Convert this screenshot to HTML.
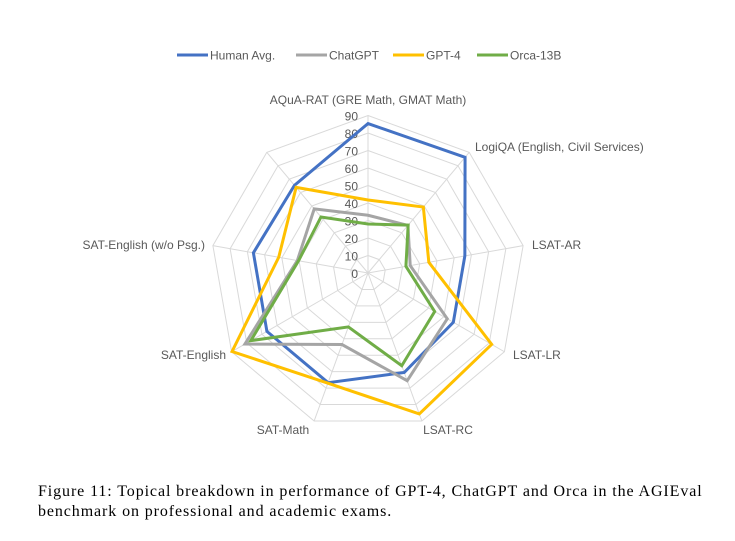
<!DOCTYPE html>
<html><head><meta charset="utf-8">
<style>
html,body{margin:0;padding:0;background:#fff;}
body{width:735px;height:541px;position:relative;overflow:hidden;}
svg{position:absolute;left:0;top:0;}
.cap{position:absolute;left:38px;top:482px;width:690px;font-family:"Liberation Serif",serif;font-size:16px;letter-spacing:0.9px;line-height:20px;color:#000;}
</style></head>
<body>
<svg id="chart" width="735" height="541" xmlns="http://www.w3.org/2000/svg"></svg>
<div class="cap">Figure 11: Topical breakdown in performance of GPT-4, ChatGPT and Orca in the AGIEval benchmark on professional and academic exams.</div>
<script>
const categories = ["AQuA-RAT (GRE Math, GMAT Math)","LogiQA (English, Civil Services)","LSAT-AR","LSAT-LR","LSAT-RC","SAT-Math","SAT-English","SAT-English (w/o Psg.)",""];
const humanAvg = [85.4,86.3,56.2,56.3,60.5,66.7,66.7,66.5,65.4];
const chatgpt = [33,35.5,24.5,52.3,65.5,43.5,81.2,41,47.8];
const gpt4 = [41.7,49.2,35.3,81.6,85.7,67,89.7,51.8,63.9];
const orca = [28,35.7,22,44,56.4,32.8,77.3,40.3,41.8];
const ticks = [0,10,20,30,40,50,60,70,80,90];
const seriesNames = ["Human Avg.","ChatGPT","GPT-4","Orca-13B"];

const svg = document.getElementById('chart');
const NS = "http://www.w3.org/2000/svg";
const cx = 368, cy = 273, R = 157.5, maxV = 90;
const colors = ["#4472c4","#a5a5a5","#ffc000","#70ad47"];
const series = [humanAvg, chatgpt, gpt4, orca];
const n = categories.length;
function pt(i, v){ const a = i*2*Math.PI/n; const r = v/maxV*R; return [cx + r*Math.sin(a), cy - r*Math.cos(a)]; }
function mk(tag, attrs){ const e = document.createElementNS(NS, tag); for (const k in attrs) e.setAttribute(k, attrs[k]); svg.appendChild(e); return e; }

ticks.slice(1).forEach(t => {
  const p = categories.map((c,i)=>pt(i,t).join(',')).join(' ');
  const e = mk('polygon',{points:p,fill:'none',stroke:'#d9d9d9','stroke-width':1});
  
  
});
categories.forEach((c,i)=>{
  const [x,y] = pt(i,maxV);
  const e = mk('line',{x1:cx,y1:cy,x2:x,y2:y,stroke:'#d9d9d9','stroke-width':1});
  
  
});
ticks.forEach(t=>{
  const e = mk('text',{x:cx-10,y:cy - t/maxV*R + 5,'text-anchor':'end','font-family':'Liberation Sans, sans-serif','font-size':12,fill:'#595959'});
  e.textContent = t;
  
  
});
const labelPos = [[368,104,'middle'],[475,151,'start'],[532,249,'start'],[513,359,'start'],[448,434,'middle'],[283,434,'middle'],[226,359,'end'],[205,249,'end'],[0,0,'start']];
categories.forEach((c,i)=>{
  if(!c) return;
  const [x,y,a] = labelPos[i];
  const e = mk('text',{x:x,y:y,'text-anchor':a,'font-family':'Liberation Sans, sans-serif','font-size':12,fill:'#595959'});
  e.textContent = c;
  
  
});
series.forEach((s,k)=>{
  const p = s.map((v,i)=>pt(i,v).join(',')).join(' ');
  const e = mk('polygon',{points:p,fill:'none',stroke:colors[k],'stroke-width':3,'stroke-linejoin':'miter'});
  
  
});
const legX = [177,296,393,477];
seriesNames.forEach((nm,k)=>{
  const l = mk('line',{x1:legX[k],y1:55,x2:legX[k]+31,y2:55,stroke:colors[k],'stroke-width':3});
  
  
  const t = mk('text',{x:legX[k]+33,y:59.5,'font-family':'Liberation Sans, sans-serif','font-size':12,fill:'#595959'});
  t.textContent = nm;
  
  
});
</script>
</body></html>
